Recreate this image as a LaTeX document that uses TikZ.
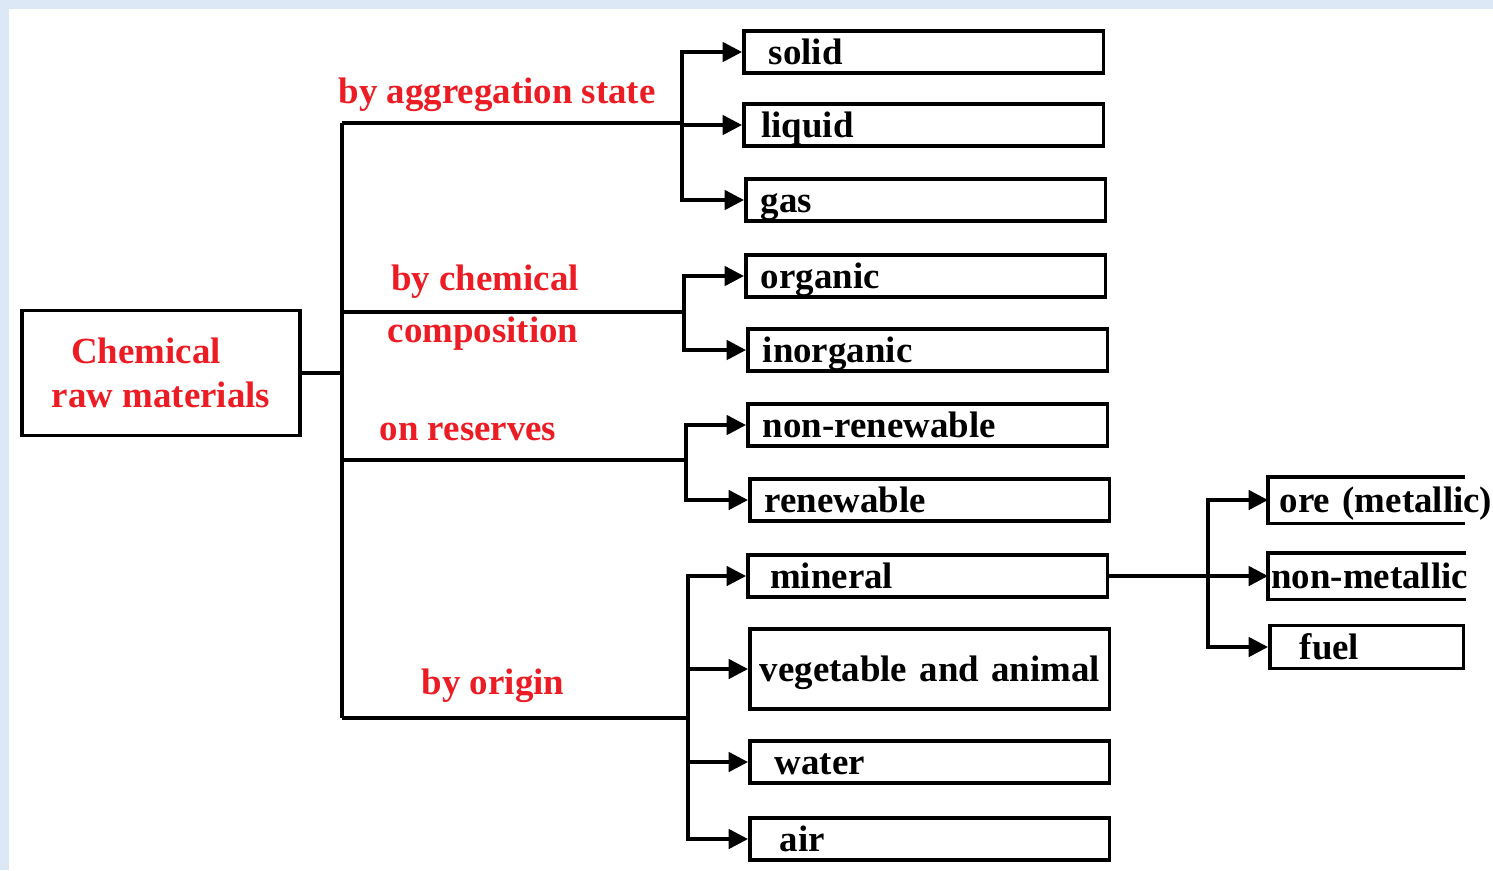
\documentclass[tikz,border=0pt]{standalone}
\usepackage{fontspec}
\setmainfont{Liberation Serif}
\usetikzlibrary{arrows.meta}
\definecolor{chemred}{RGB}{236,28,36}
\definecolor{bgblue}{RGB}{220,232,245}
\tikzset{
    line/.style={line width=2pt},
    arr/.style={line width=2pt, -{Triangle[length=11pt,width=11pt]}},
    leaf/.style={draw, line width=2pt, anchor=west, align=left, text width=6.6cm,
        inner xsep=0.3cm, inner ysep=0pt, minimum height=0.84cm,
        text height=0.6cm, text depth=0.12cm,
        execute at begin node={\leavevmode\hbox\bgroup}, execute at end node={\egroup},
        font=\fontsize{21}{25}\selectfont\bfseries},
    subleaf/.style={leaf, text width=3.48cm, inner xsep=0.2cm, minimum height=0.86cm},
    branch/.style={text=chemred, font=\fontsize{21}{25}\selectfont\bfseries}
}
\begin{document}
\begin{tikzpicture}[x=0.02cm, y=-0.02cm]
    \path[use as bounding box, fill=bgblue] (0,0) rectangle (1493,870);
    \fill[white] (9,9) rectangle (1493,870);

    \node[draw, line width=2pt, minimum width=5.56cm, minimum height=2.5cm, align=center,
        text=chemred, font=\fontsize{21}{25}\selectfont\bfseries] (chem) at (161,373)
        {Chemical\hspace*{0.6cm}\\raw materials};

    % trunk and branches
    \coordinate (t1) at (342,123);
    \coordinate (t4) at (342,718);
    \coordinate (j1) at (682,123);
    \coordinate (j2) at (684,312);
    \coordinate (j3) at (686,460);
    \coordinate (j4) at (688,718);
    \coordinate (j5) at (1208,576);

    \node[leaf] (solid) at (742,52) {\hspace{0.2cm}solid};
    \node[leaf] (liquid) at (742,125) {\hspace{0.05cm}liquid};
    \node[leaf] (gas) at (744,200) {gas};
    \node[leaf] (organic) at (744,276) {organic};
    \node[leaf] (inorganic) at (746,350) {inorganic};
    \node[leaf] (nonren) at (746,425) {non-renewable};
    \node[leaf] (ren) at (748,500) {renewable};
    \node[leaf] (mineral) at (746,576) {\hspace{0.15cm}mineral};
    \node[leaf, minimum height=1.6cm, inner xsep=0.2cm, text width=6.8cm] (veget) at (748,669) {vegetable and animal};
    \node[leaf] (water) at (748,762) {\hspace{0.2cm}water};
    \node[leaf] (air) at (748,839) {\hspace{0.3cm}air};

    \node[subleaf, draw=none] (ore) at (1268,500) {ore (metallic)};
    \node[subleaf, draw=none, inner xsep=0.03cm, text width=3.82cm] (nonmet) at (1268,576) {non-metallic};
    \node[subleaf] (fuel) at (1268,647) {\hspace{0.4cm}fuel};
    \draw[line] (ore.north east) -- (ore.north west) -- (ore.south west) -- (ore.south east);
    \draw[line] (nonmet.north east) -- (nonmet.north west) -- (nonmet.south west) -- (nonmet.south east);

    \draw[line] (chem.east) -- (chem.east -| t1);
    \draw[line] (t1) -- (t4);
    \draw[line] (t1) -- (j1) node[branch, midway, above=2pt, xshift=-0.3cm] {by aggregation state};
    \draw[line] (j2 -| t1) -- (j2);
    \draw[line] (j3 -| t1) -- (j3);
    \draw[line] (j4 -| t1) -- (j4);
    \node[branch] (lchem) at (485,282) {by chemical};
    \node[branch] (lcomp) at (483,334) {composition};
    \node[branch] (lres) at (468,432) {on reserves};
    \node[branch] (lorig) at (493,686) {by origin};

    % arrows to the boxes
    \draw[arr] (j1) |- (solid.west);
    \draw[arr] (j1) |- (liquid.west);
    \draw[arr] (j1) |- (gas.west);
    \draw[arr] (j2) |- (organic.west);
    \draw[arr] (j2) |- (inorganic.west);
    \draw[arr] (j3) |- (nonren.west);
    \draw[arr] (j3) |- (ren.west);
    \draw[arr] (j4) |- (mineral.west);
    \draw[arr] (j4) |- (veget.west);
    \draw[arr] (j4) |- (water.west);
    \draw[arr] (j4) |- (air.west);

    \draw[line] (mineral.east) -- (j5);
    \draw[arr] (j5) |- (ore.west);
    \draw[arr] (j5) -- (nonmet.west);
    \draw[arr] (j5) |- (fuel.west);
\end{tikzpicture}
\end{document}
